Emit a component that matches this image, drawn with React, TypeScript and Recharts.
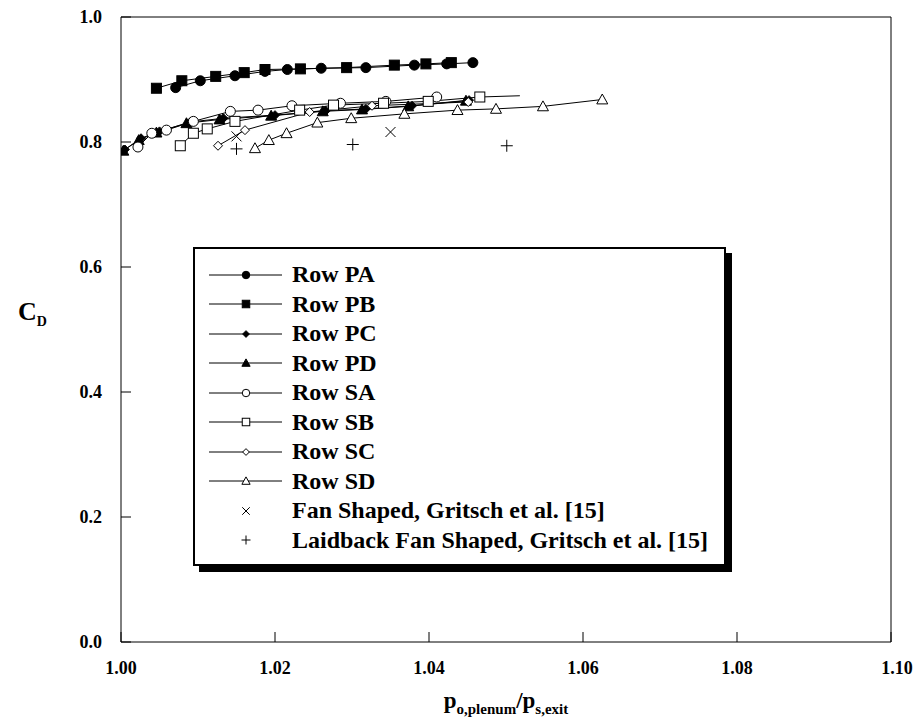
import React from "react";
import { ComposedChart, Line, Scatter, XAxis, YAxis, Legend, Label } from "recharts";

// pressure ratio p_o,plenum / p_s,exit and discharge coefficient per row
const paX = [1.0071, 1.0103, 1.0148, 1.0187, 1.0216, 1.026, 1.0318, 1.0381, 1.0423, 1.0457];
const paY = [0.887, 0.898, 0.906, 0.913, 0.916, 0.918, 0.919, 0.923, 0.925, 0.927];
const pbX = [1.0046, 1.0079, 1.0123, 1.016, 1.0187, 1.0233, 1.0293, 1.0355, 1.0396, 1.0429];
const pbY = [0.886, 0.898, 0.905, 0.911, 0.916, 0.917, 0.919, 0.923, 0.925, 0.927];
const pcX = [1.0005, 1.0026, 1.005, 1.009, 1.0133, 1.02, 1.0266, 1.0318, 1.0378, 1.0452];
const pcY = [0.788, 0.806, 0.817, 0.832, 0.838, 0.843, 0.85, 0.853, 0.858, 0.867];
const pdX = [1.0003, 1.0023, 1.0046, 1.0085, 1.0128, 1.0195, 1.0262, 1.0313, 1.0373, 1.0448];
const pdY = [0.786, 0.803, 0.815, 0.83, 0.836, 0.842, 0.849, 0.852, 0.857, 0.866];
const saX = [1.0022, 1.004, 1.0059, 1.0094, 1.0142, 1.0178, 1.0222, 1.0285, 1.0344, 1.041];
const saY = [0.792, 0.814, 0.819, 0.833, 0.849, 0.851, 0.858, 0.862, 0.865, 0.872];
const sbX = [1.0077, 1.0094, 1.0112, 1.0148, 1.0232, 1.0276, 1.0341, 1.0399, 1.0466];
const sbY = [0.794, 0.814, 0.821, 0.833, 0.851, 0.859, 0.862, 0.865, 0.872];
// SB curve runs on past its last measured point
const sbTailX = [1.0466, 1.0518];
const sbTailY = [0.872, 0.874];
const scX = [1.0126, 1.0161, 1.0245, 1.0326, 1.0451];
const scY = [0.794, 0.819, 0.848, 0.858, 0.864];
const sdX = [1.0174, 1.0192, 1.0215, 1.0255, 1.0299, 1.0368, 1.0437, 1.0487, 1.0548, 1.0625];
const sdY = [0.79, 0.803, 0.814, 0.831, 0.838, 0.845, 0.851, 0.853, 0.857, 0.868];
const fanX = [1.015, 1.035];
const fanY = [0.809, 0.816];
const laidX = [1.015, 1.0301, 1.0501];
const laidY = [0.789, 0.796, 0.794];

const xTicks = [1.0, 1.02, 1.04, 1.06, 1.08, 1.1];
const yTicks = [0, 0.2, 0.4, 0.6, 0.8, 1.0];

const FONT = '"Liberation Serif", "Times New Roman", Times, serif';

const pts = (xs: number[], ys: number[]) => xs.map((x, i) => ({ x, y: ys[i] }));

type Kind =
  | "circleFill" | "squareFill" | "diamondFill" | "triFill"
  | "circle" | "square" | "diamond" | "tri" | "cross" | "plus";

const marker = (kind: Kind, cx: number, cy: number, key?: React.Key, s = 1) => {
  const fill = kind.endsWith("Fill") ? "#000" : "#fff";
  const common = { stroke: "#000", strokeWidth: 1, fill };
  switch (kind) {
    case "circleFill":
    case "circle":
      return <circle key={key} cx={cx} cy={cy} r={5 * s} {...common} />;
    case "squareFill":
    case "square": {
      const h = 5 * s;
      return <rect key={key} x={cx - h} y={cy - h} width={2 * h} height={2 * h} {...common} />;
    }
    case "diamondFill":
    case "diamond": {
      const h = 4.5 * s;
      return (
        <polygon key={key} points={`${cx},${cy - h} ${cx + h},${cy} ${cx},${cy + h} ${cx - h},${cy}`} {...common} />
      );
    }
    case "triFill":
    case "tri": {
      const h = 5.5 * s;
      return (
        <polygon key={key} points={`${cx},${cy - h} ${cx + h},${cy + h * 0.8} ${cx - h},${cy + h * 0.8}`} {...common} />
      );
    }
    case "cross": {
      const h = 5 * s;
      return (
        <g key={key} stroke="#000" strokeWidth={1}>
          <line x1={cx - h} y1={cy - h} x2={cx + h} y2={cy + h} />
          <line x1={cx - h} y1={cy + h} x2={cx + h} y2={cy - h} />
        </g>
      );
    }
    case "plus": {
      const h = 6 * s;
      return (
        <g key={key} stroke="#000" strokeWidth={1}>
          <line x1={cx - h} y1={cy} x2={cx + h} y2={cy} />
          <line x1={cx} y1={cy - h} x2={cx} y2={cy + h} />
        </g>
      );
    }
  }
};

const rows: { name: string; xs: number[]; ys: number[]; kind: Kind; line: boolean }[] = [
  { name: "Row PA", xs: paX, ys: paY, kind: "circleFill", line: true },
  { name: "Row PB", xs: pbX, ys: pbY, kind: "squareFill", line: true },
  { name: "Row PC", xs: pcX, ys: pcY, kind: "diamondFill", line: true },
  { name: "Row PD", xs: pdX, ys: pdY, kind: "triFill", line: true },
  { name: "Row SA", xs: saX, ys: saY, kind: "circle", line: true },
  { name: "Row SB", xs: sbX, ys: sbY, kind: "square", line: true },
  { name: "Row SC", xs: scX, ys: scY, kind: "diamond", line: true },
  { name: "Row SD", xs: sdX, ys: sdY, kind: "tri", line: true },
  { name: "Fan Shaped, Gritsch et al. [15]", xs: fanX, ys: fanY, kind: "cross", line: false },
  { name: "Laidback Fan Shaped, Gritsch et al. [15]", xs: laidX, ys: laidY, kind: "plus", line: false },
];

const BottomTick = (p: any) => (
  <g>
    <line x1={p.x} y1={p.y} x2={p.x} y2={p.y - 10} stroke="#000" />
    <text x={p.index === xTicks.length - 1 ? p.x + 6 : p.x} y={p.y + 32} textAnchor="middle"
      fontFamily={FONT} fontWeight="bold" fontSize={18} fill="#000">
      {Number(p.payload.value).toFixed(2)}
    </text>
  </g>
);
const TopTick = (p: any) => <line x1={p.x} y1={p.y} x2={p.x} y2={p.y + 10} stroke="#000" />;
const LeftTick = (p: any) => (
  <g>
    <line x1={p.x} y1={p.y} x2={p.x + 10} y2={p.y} stroke="#000" />
    <text x={p.x - 19} y={p.y + 6} textAnchor="end" fontFamily={FONT} fontWeight="bold" fontSize={18} fill="#000">
      {Number(p.payload.value).toFixed(1)}
    </text>
  </g>
);
const RightTick = (p: any) => <line x1={p.x} y1={p.y} x2={p.x - 10} y2={p.y} stroke="#000" />;

const LegendBox = () => (
  <div
    style={{
      background: "#fff",
      border: "2px solid #000",
      boxShadow: "6px 6px 0 #000",
      padding: "11px 16px 9px 14px",
      fontFamily: FONT,
      fontWeight: "bold",
      fontSize: 24,
      color: "#000",
      whiteSpace: "nowrap",
    }}
  >
    {rows.map((r) => (
      <div key={r.name} style={{ display: "flex", alignItems: "center", height: 29.5 }}>
        <svg width={74} height={20} style={{ marginRight: 9 }}>
          {r.line && <line x1={0} y1={10} x2={73} y2={10} stroke="#000" />}
          {marker(r.kind, 37, 10, undefined, 0.75)}
        </svg>
        <span>{r.name}</span>
      </div>
    ))}
  </div>
);

const XTitle = (props: any) => {
  const vb = props.viewBox;
  return (
    <text x={vb.x + vb.width / 2} y={vb.y + 66} textAnchor="middle" fontFamily={FONT} fontWeight="bold" fontSize={23} fill="#000">
      p<tspan fontSize={15} dy={6}>o,plenum</tspan>
      <tspan fontSize={23} dy={-6}>/p</tspan>
      <tspan fontSize={15} dy={6}>s,exit</tspan>
    </text>
  );
};

const YTitle = () => (
  <text x={18} y={320} fontFamily={FONT} fontWeight="bold" fontSize={26} fill="#000">
    C<tspan fontSize={14} dy={6}>D</tspan>
  </text>
);

export default function App() {
  return (
    <div style={{ position: "absolute", left: 0, top: 0, background: "#fff" }}>
      <ComposedChart width={914} height={727} margin={{ top: 16, right: 22, bottom: 0, left: 0 }}>
        <XAxis dataKey="x" type="number" domain={[1, 1.1]} ticks={xTicks} interval={0} allowDataOverflow
          height={85} tickLine={false} tickSize={0} tickMargin={0} tick={<BottomTick />} stroke="#000">
          <Label content={<XTitle />} />
        </XAxis>
        <XAxis xAxisId="top" orientation="top" type="number" domain={[1, 1.1]} ticks={xTicks} interval={0}
          height={1} tickLine={false} tickSize={0} tickMargin={0} tick={<TopTick />} stroke="#000" />
        <YAxis dataKey="y" type="number" domain={[0, 1]} ticks={yTicks} interval={0} allowDataOverflow
          width={121} tickLine={false} tickSize={0} tickMargin={0} tick={<LeftTick />} stroke="#000">
          <Label content={<YTitle />} />
        </YAxis>
        <YAxis yAxisId="right" orientation="right" type="number" domain={[0, 1]} ticks={yTicks} interval={0}
          width={1} tickLine={false} tickSize={0} tickMargin={0} tick={<RightTick />} stroke="#000" />
        {rows.map((r) =>
          r.line ? (
            <Line key={r.name} name={r.name} data={pts(r.xs, r.ys)} dataKey="y" stroke="#000" strokeWidth={1}
              isAnimationActive={false}
              dot={(p: any) => marker(r.kind, p.cx, p.cy, `${r.name}-${p.index}`)} activeDot={false} />
          ) : (
            <Scatter key={r.name} name={r.name} data={pts(r.xs, r.ys)} dataKey="y" isAnimationActive={false}
              shape={(p: any) => marker(r.kind, p.cx, p.cy)} />
          )
        )}
        <Line data={pts(sbTailX, sbTailY)} dataKey="y" stroke="#000" strokeWidth={1} dot={false}
          legendType="none" isAnimationActive={false} />
        <Legend layout="vertical" align="center" verticalAlign="middle" content={<LegendBox />}
          wrapperStyle={{ position: "absolute", left: 193, top: 247, width: "auto", height: "auto" }} />
      </ComposedChart>
    </div>
  );
}
